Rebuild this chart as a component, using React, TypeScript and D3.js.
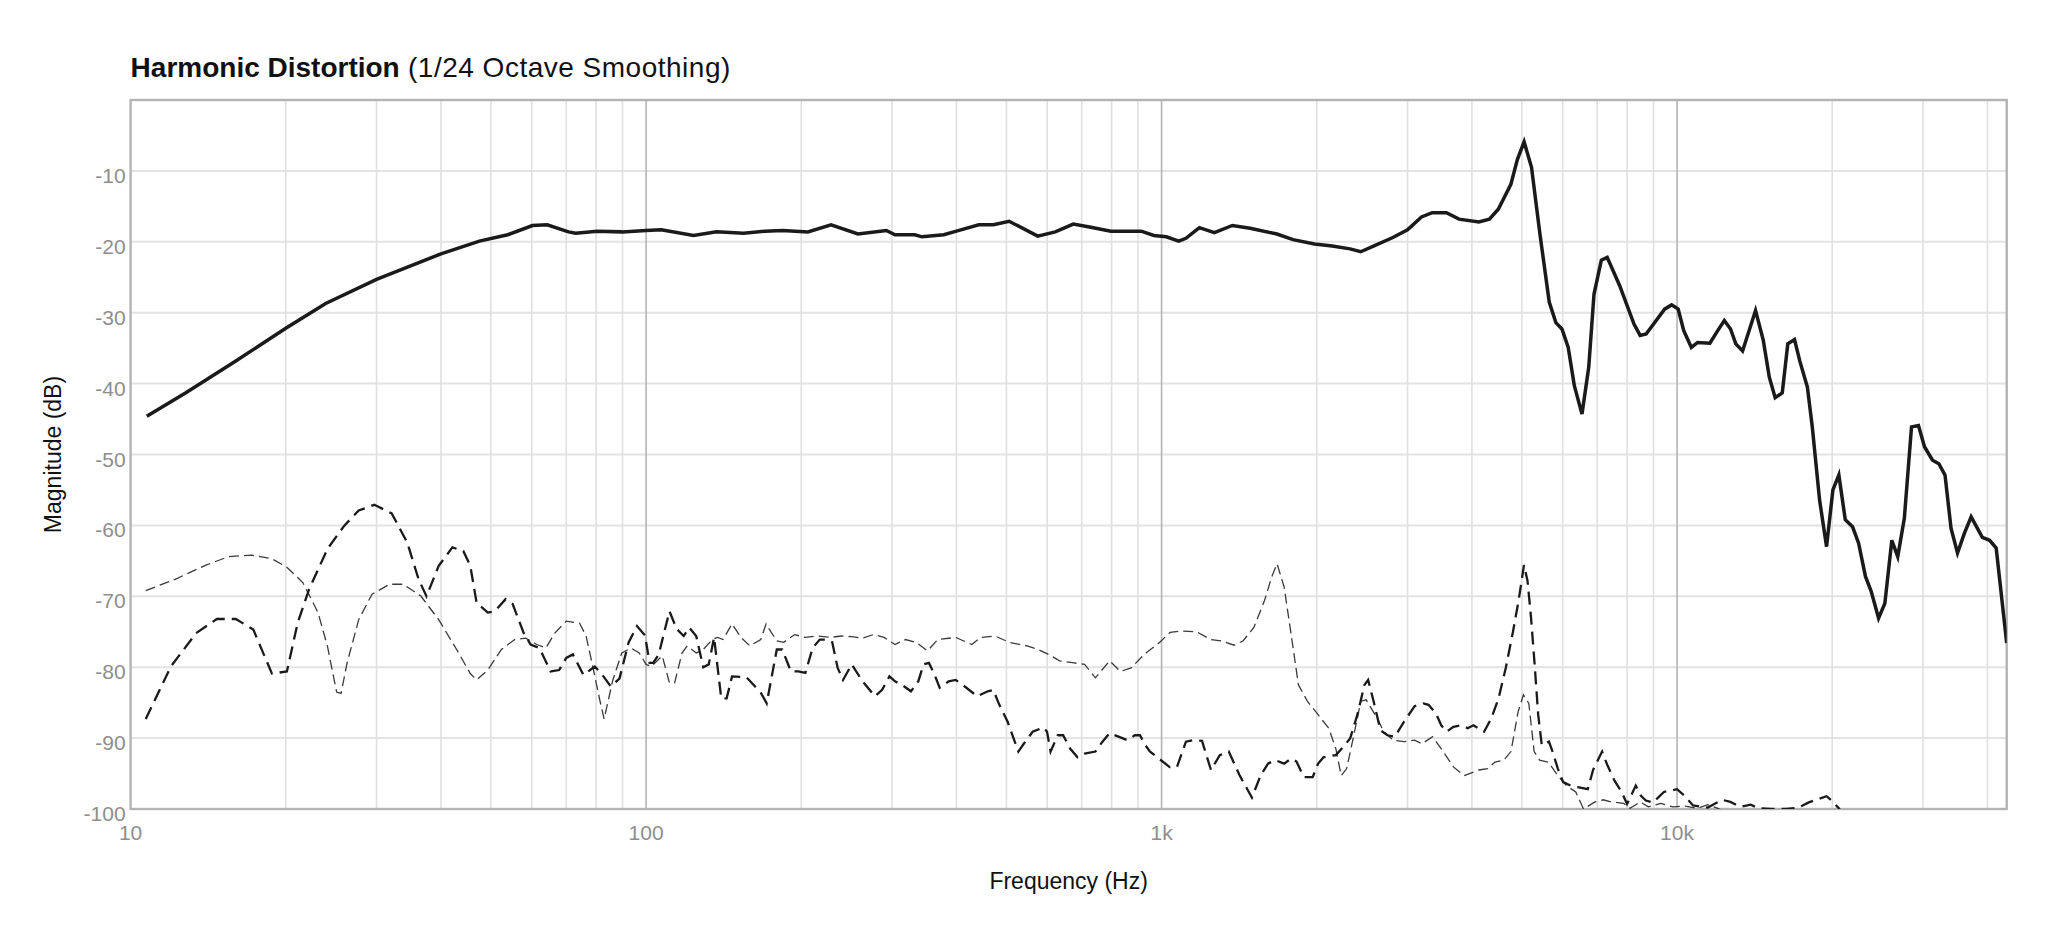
import React from 'react';
import * as d3 from 'd3';

// Fundamental level (dB) at frequency (Hz)
const fundamental: [number, number][] = [
  [10.75, -44.6], [12.8, -41.3], [16, -36.8], [20, -32.2], [23.9, -28.7], [30, -25.3], [40, -21.7],
  [47.5, -19.9], [53.9, -19.0], [60.2, -17.7], [64.3, -17.6], [70.7, -18.6], [73, -18.8], [80.4, -18.5],
  [89.9, -18.6], [100, -18.4], [107, -18.3], [123.6, -19.1], [137, -18.6], [154.6, -18.8], [170, -18.5],
  [184, -18.4], [206, -18.6], [228.5, -17.6], [257.6, -18.9], [292.5, -18.4], [304, -19.0], [332, -19.0],
  [343, -19.3], [378, -19.0], [400, -18.5], [442, -17.6], [472, -17.6], [506, -17.1], [575, -19.2],
  [622, -18.6], [674, -17.5], [725, -17.9], [797, -18.5], [913, -18.5], [966, -19.1], [1021, -19.3],
  [1080, -19.9], [1115, -19.5], [1184, -18.0], [1266, -18.7], [1372, -17.7], [1485, -18.1], [1674, -18.9],
  [1799, -19.7], [1980, -20.3], [2143, -20.6], [2321, -21.0], [2434, -21.4], [2596, -20.5], [2810, -19.4],
  [3000, -18.3], [3193, -16.5], [3350, -15.9], [3569, -15.9], [3776, -16.8], [4126, -17.2], [4324, -16.8],
  [4500, -15.4], [4760, -11.9], [4900, -8.4], [5050, -5.9], [5220, -9.5], [5420, -18.9], [5650, -28.5],
  [5820, -31.4], [5980, -32.3], [6150, -34.9], [6320, -40.3], [6540, -44.3], [6740, -37.7], [6900, -27.4],
  [7130, -22.6], [7320, -22.2], [7740, -26.2], [8250, -31.6], [8480, -33.2], [8710, -33.0], [9460, -29.5],
  [9760, -28.9], [10050, -29.5], [10300, -32.5], [10660, -34.9], [10960, -34.2], [11580, -34.3],
  [12000, -32.5], [12350, -31.1], [12700, -32.3], [13000, -34.4], [13400, -35.4], [14200, -29.7],
  [14700, -33.9], [15100, -39.1], [15500, -42.0], [16000, -41.3], [16400, -34.4], [16900, -33.8],
  [17300, -36.8], [17900, -40.5], [18300, -46.2], [18900, -56.4], [19500, -63.0], [20060, -55.0],
  [20600, -52.9], [21200, -59.2], [21900, -60.2], [22500, -62.5], [23200, -67.2], [23800, -69.3],
  [24600, -73.1], [25300, -71.0], [26100, -62.1], [26800, -64.4], [27600, -59.0], [28500, -46.1],
  [29400, -45.9], [30200, -48.9], [31300, -50.8], [32200, -51.3], [33100, -52.9], [34000, -60.4],
  [35000, -63.9], [36100, -61.1], [37200, -58.8], [39100, -61.7], [40400, -62.1], [41600, -63.2],
  [43600, -76.6],
];

// Second harmonic (dB)
const secondHarmonic: [number, number][] = [
  [10.7, -87.3], [11.97, -79.9], [13.4, -75.2], [14.7, -73.2], [16.0, -73.2], [17.3, -74.7], [18.8, -80.9],
  [20.1, -80.6], [21.1, -73.7], [22.2, -69.0], [24.1, -63.3], [26.0, -60.0], [27.7, -57.9], [29.7, -57.1],
  [32.1, -58.3], [34.4, -62.4], [36.2, -67.6], [37.5, -70.0], [39.6, -65.7], [42.1, -63.1], [44.2, -63.6],
  [45.6, -65.7], [46.9, -70.9], [49.3, -72.3], [50.9, -72.1], [53.4, -70.4], [55.1, -71.1], [57.9, -75.2],
  [59.7, -76.8], [62.1, -77.3], [65.3, -80.6], [67.8, -80.4], [70.0, -78.7], [72.1, -78.2], [75.6, -81.1],
  [79.5, -79.9], [81.9, -80.9], [85.4, -82.7], [88.8, -81.6], [92.5, -76.5], [96, -74.2], [99.5, -75.5],
  [101.6, -79.4], [103.2, -79.4], [105.8, -78.2], [111, -72.1], [114.6, -74.6], [118.3, -75.6],
  [121.2, -74.4], [125.1, -75.6], [129.1, -80.0], [132.3, -79.6], [135.5, -75.8], [139.9, -84.4],
  [143.3, -84.4], [146.8, -81.3], [156.5, -81.4], [166.9, -83.6], [171.4, -85.1], [179.3, -77.5],
  [183.7, -77.5], [191, -80.6], [197.3, -80.6], [203.7, -80.8], [210.4, -77.3], [217.2, -76.1],
  [224.3, -76.1], [229.7, -76.5], [235.3, -80.1], [241, -81.8], [250.6, -79.6], [263, -82.0], [278, -84.1],
  [287, -83.2], [296.5, -81.3], [304, -82.0], [313.7, -82.5], [326.5, -83.4], [337.3, -82.0], [345.3, -79.6],
  [353.8, -79.4], [362.4, -81.0], [371.1, -82.9], [386.3, -82.0], [398.7, -81.8], [418.2, -82.9],
  [438.9, -84.1], [460.3, -83.4], [471.7, -83.2], [483.1, -85.1], [502.8, -87.7], [519, -90.5],
  [527.5, -91.9], [540.3, -90.8], [562.3, -89.1], [590, -88.5], [599.5, -89.1], [609.1, -91.9],
  [628.9, -89.6], [644.2, -89.6], [665.2, -91.5], [686.9, -92.7], [709.2, -92.2], [744, -91.9], [768, -90.5],
  [793, -89.3], [825, -89.8], [859, -90.3], [887, -89.6], [908, -89.6], [930, -91.0], [950, -91.9],
  [981, -92.7], [1037, -94.1], [1071, -94.1], [1115, -90.5], [1151, -90.3], [1198, -90.4], [1247, -94.5],
  [1297, -92.4], [1350, -91.9], [1416, -95.2], [1497, -98.4], [1558, -95.2], [1609, -93.6], [1661, -93.1],
  [1729, -93.6], [1784, -92.9], [1827, -93.3], [1887, -95.5], [1964, -95.5], [2012, -93.6], [2061, -92.7],
  [2178, -92.4], [2267, -91.0], [2323, -90.0], [2398, -86.7], [2475, -82.5], [2516, -81.8], [2578, -84.8],
  [2659, -88.9], [2743, -89.6], [2835, -89.8], [2952, -87.7], [3097, -85.5], [3219, -85.1], [3295, -85.3],
  [3405, -86.5], [3488, -88.2], [3573, -89.1], [3683, -88.4], [3803, -88.2], [3926, -88.6], [4027, -88.2],
  [4224, -89.1], [4362, -87.2], [4505, -84.4], [4653, -80.1], [4808, -74.9], [4927, -70.6], [5047, -65.6],
  [5127, -67.8], [5209, -73.0], [5293, -79.6], [5378, -86.7], [5465, -91.0], [5643, -90.5], [5734, -91.9],
  [5871, -94.3], [6012, -96.2], [6214, -96.7], [6415, -96.9], [6711, -97.2], [6872, -94.5], [7154, -91.9],
  [7324, -93.8], [7563, -96.0], [7808, -97.6], [7998, -99.3], [8315, -96.7], [8503, -98.1], [8697, -98.8],
  [8974, -99.1], [9430, -97.6], [10000, -97.2], [10330, -98.1], [10740, -99.5], [11470, -99.8],
  [12230, -98.7], [12690, -99.0], [13280, -99.7], [13900, -99.4], [14400, -99.9], [15240, -100.0],
  [16260, -100.0], [17200, -99.8], [17970, -99.1], [18600, -98.7], [19500, -98.2], [20000, -98.9],
  [20600, -99.9], [20900, -100.6],
];

// Third harmonic (dB)
const thirdHarmonic: [number, number][] = [
  [10.7, -69.2], [12.2, -67.6], [14.0, -65.6], [15.5, -64.4], [17.2, -64.2], [18.8, -64.7], [20.1, -65.9],
  [21.6, -68.1], [23.1, -72.3], [24.1, -77.1], [25.1, -83.5], [25.6, -83.7], [26.3, -79.4], [27.7, -73.3],
  [29.4, -69.7], [31.8, -68.3], [33.8, -68.3], [36.6, -70.0], [39.6, -73.3], [42.9, -77.5], [45.6, -80.9],
  [46.9, -81.8], [49.3, -80.4], [52.4, -77.5], [55.6, -76.1], [58.4, -75.9], [61.4, -76.8], [63.9, -77.3],
  [66.5, -75.2], [70.0, -73.5], [74.3, -73.8], [76.5, -75.6], [78.8, -79.9], [81.3, -84.6], [82.9, -87.3],
  [86.2, -81.8], [89.7, -78.0], [93.5, -77.3], [97, -78.0], [100, -79.6], [102.4, -79.9], [107.5, -78.4],
  [111, -82.2], [113.6, -82.2], [117.4, -78.0], [120.2, -77.0], [125.1, -78.0], [129.1, -77.5],
  [134.4, -76.1], [137.6, -75.8], [141, -76.1], [146.8, -73.9], [152.8, -75.8], [159, -77.0], [166.9, -76.1],
  [170.9, -73.9], [179.3, -76.3], [184.9, -76.5], [194.1, -75.4], [203.7, -75.8], [215.4, -75.6],
  [227.8, -75.8], [239.1, -75.6], [250.6, -75.7], [263, -75.9], [276, -75.4], [289.5, -75.8], [304, -76.8],
  [318.5, -76.1], [334.5, -76.5], [351.5, -77.7], [367.9, -76.1], [398.7, -75.8], [428.5, -76.8],
  [445.6, -75.8], [474.9, -75.6], [507, -76.5], [548.8, -77.0], [576, -77.5], [604, -78.2], [634, -79.1],
  [677, -79.4], [709, -79.6], [744, -81.5], [793, -79.1], [832, -80.6], [873, -80.1], [925, -78.2],
  [991, -76.5], [1039, -75.1], [1089, -74.9], [1169, -75.0], [1246, -76.1], [1307, -76.3], [1382, -76.9],
  [1439, -76.3], [1510, -74.4], [1584, -70.6], [1635, -67.3], [1675, -65.4], [1729, -68.7], [1784, -75.4],
  [1843, -82.5], [1918, -84.8], [2012, -86.7], [2110, -88.6], [2178, -91.5], [2231, -95.3], [2286, -94.3],
  [2360, -89.6], [2435, -84.8], [2494, -84.6], [2595, -86.7], [2700, -89.1], [2813, -90.3], [2954, -90.5],
  [3097, -90.3], [3199, -90.8], [3356, -89.8], [3518, -91.9], [3687, -94.1], [3862, -95.3], [4126, -94.5],
  [4292, -94.3], [4432, -93.4], [4612, -93.1], [4762, -91.9], [4916, -86.3], [5035, -83.9], [5157, -85.1],
  [5282, -91.9], [5411, -93.1], [5632, -93.4], [5871, -95.3], [6102, -96.7], [6361, -97.6], [6585, -100.0],
  [6932, -99.0], [7189, -98.7], [7456, -99.0], [7879, -99.2], [8103, -99.9], [8481, -99.0], [8796, -99.7],
  [9293, -99.2], [9818, -99.7], [10370, -99.6], [10960, -99.9], [11470, -99.4], [12000, -99.9],
  [12450, -100.5],
];

const freqDomain: [number, number] = [10, 43600];
const dbDomain: [number, number] = [-100, 0];
const yTicks = [-100, -90, -80, -70, -60, -50, -40, -30, -20, -10];
const xTicks = [10, 100, 1000, 10000];
const xTickLabels = ['10', '100', '1k', '10k'];

const W = 2048;
const H = 948;
const plot = { left: 130.6, right: 2006.7, top: 100, bottom: 809 };
const FONT = "'Liberation Sans', Arial, Helvetica, sans-serif";

export default function App() {
  const x = d3.scaleLog().domain(freqDomain).range([plot.left, plot.right]);
  const y = d3.scaleLinear().domain(dbDomain).range([plot.bottom, plot.top]);

  const line = d3
    .line<[number, number]>()
    .x((d) => x(d[0]))
    .y((d) => y(d[1]))
    .curve(d3.curveLinear);

  // minor and decade gridlines across the log axis
  const gridFreqs: { f: number; major: boolean }[] = [];
  for (let dec = 10; dec <= 10000; dec *= 10) {
    for (let m = 1; m <= 9; m++) {
      const f = dec * m;
      if (f <= freqDomain[0] || f >= freqDomain[1]) continue;
      gridFreqs.push({ f, major: m === 1 });
    }
  }

  return (
    <div style={{ position: 'absolute', left: 0, top: 0, background: '#fff' }}>
      <svg width={W} height={H} viewBox={`0 0 ${W} ${H}`} style={{ display: 'block', background: '#fff' }}>
        <defs>
          <clipPath id="plot-clip">
            <rect x={plot.left} y={plot.top} width={plot.right - plot.left} height={plot.bottom - plot.top} />
          </clipPath>
        </defs>

        <text x={plot.left} y={77} fontFamily={FONT} fontSize={28} fill="#111">
          <tspan fontWeight={700}>Harmonic Distortion</tspan>
          <tspan letterSpacing={0.5}> (1/24 Octave Smoothing)</tspan>
        </text>

        {/* horizontal grid */}
        {yTicks
          .filter((t) => t > dbDomain[0])
          .map((t) => (
            <line key={`h${t}`} x1={plot.left} x2={plot.right} y1={y(t)} y2={y(t)} stroke="#e3e3e3" strokeWidth={2} />
          ))}

        {/* vertical grid */}
        {gridFreqs
          .filter((g) => !g.major)
          .map((g) => (
            <line key={`v${g.f}`} x1={x(g.f)} x2={x(g.f)} y1={plot.top} y2={plot.bottom} stroke="#e0e0e0" strokeWidth={1.6} />
          ))}
        {gridFreqs
          .filter((g) => g.major)
          .map((g) => (
            <line key={`V${g.f}`} x1={x(g.f)} x2={x(g.f)} y1={plot.top} y2={plot.bottom} stroke="#b4b4b4" strokeWidth={1.6} />
          ))}

        {/* plot frame */}
        <rect
          x={plot.left}
          y={plot.top}
          width={plot.right - plot.left}
          height={plot.bottom - plot.top}
          fill="none"
          stroke="#b3b3b3"
          strokeWidth={2.4}
        />

        {/* curves */}
        <g clipPath="url(#plot-clip)" fill="none">
          <path d={line(thirdHarmonic) ?? ''} stroke="#3a3a3a" strokeWidth={1.3} strokeDasharray="10 5" />
          <path d={line(secondHarmonic) ?? ''} stroke="#1a1a1a" strokeWidth={2.3} strokeDasharray="13 7" />
          <path d={line(fundamental) ?? ''} stroke="#1a1a1a" strokeWidth={3.5} />
        </g>

        {/* y tick labels */}
        {yTicks.map((t) => (
          <text key={`yl${t}`} x={plot.left - 5} y={y(t) + 12} textAnchor="end" fontFamily={FONT} fontSize={21} fill="#8e8e8e">
            {t}
          </text>
        ))}

        {/* x tick labels */}
        {xTicks.map((t, i) => (
          <text key={`xl${t}`} x={x(t)} y={840} textAnchor="middle" fontFamily={FONT} fontSize={21} fill="#8e8e8e">
            {xTickLabels[i]}
          </text>
        ))}

        <text x={(plot.left + plot.right) / 2} y={889} textAnchor="middle" fontFamily={FONT} fontSize={23} fill="#111">
          Frequency (Hz)
        </text>
        <text
          transform={`translate(61, ${(plot.top + plot.bottom) / 2}) rotate(-90)`}
          textAnchor="middle"
          fontFamily={FONT}
          fontSize={23}
          fill="#111"
        >
          Magnitude (dB)
        </text>
      </svg>
    </div>
  );
}
